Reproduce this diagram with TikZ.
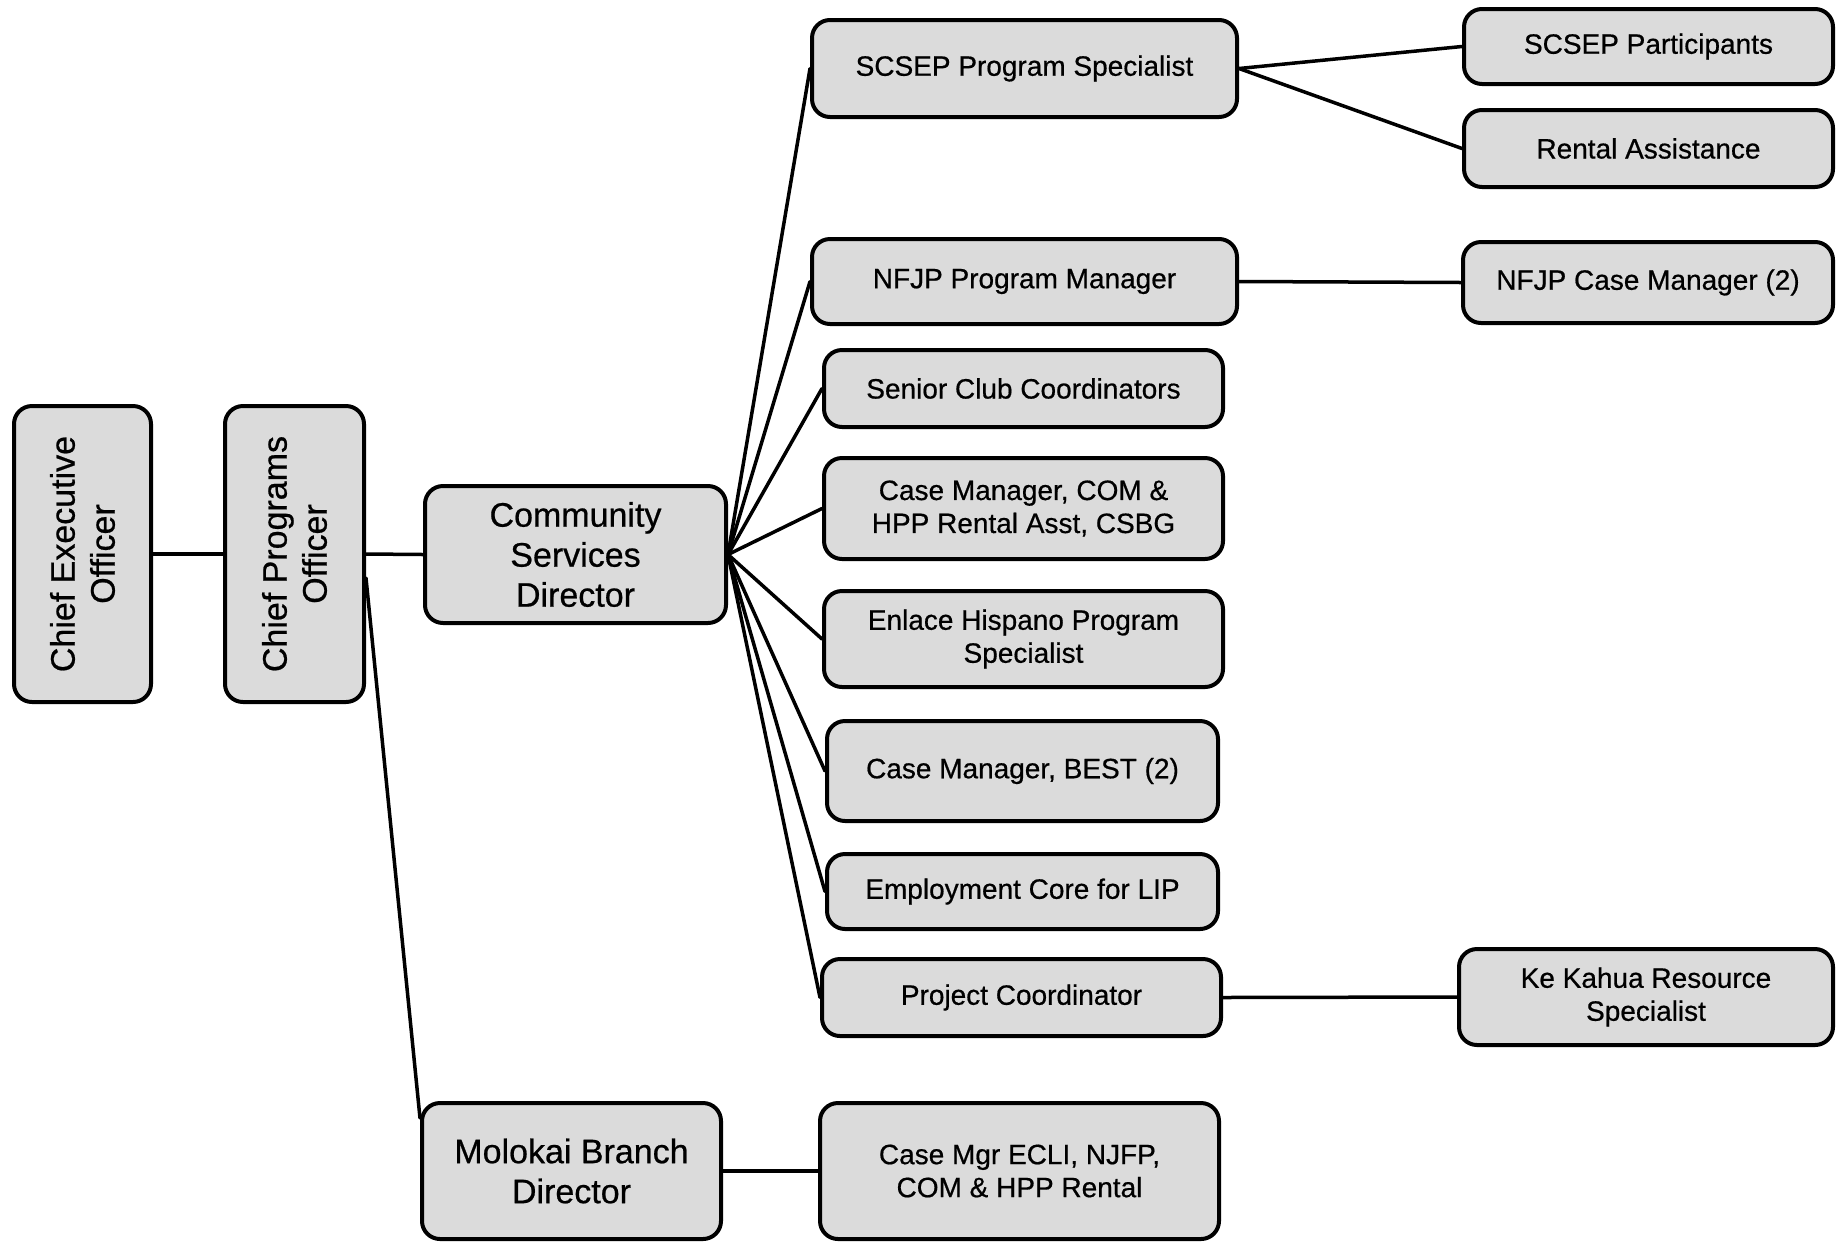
\documentclass[tikz,border=0pt]{standalone}
\usepackage{fontspec}
\setmainfont[FakeBold=0.6]{Liberation Sans}
\usetikzlibrary{calc}
\definecolor{boxfill}{gray}{0.86}
\tikzset{
  box/.style={draw, line width=4pt, rounded corners=18pt, fill=boxfill, align=center,
    inner sep=0pt, font=\fontsize{28}{33}\selectfont},
  bigbox/.style={box, font=\fontsize{34}{40}\selectfont},
  link/.style={line width=3.5pt, line cap=round}
}
\begin{document}
\begin{tikzpicture}[x=1pt,y=-1pt]
\useasboundingbox (0,0) rectangle (1841,1243);
% left column
\node[bigbox, rotate=90, minimum width=296pt, minimum height=137pt] (ceo) at (82.5,554) {Chief Executive\\Officer};
\node[bigbox, rotate=90, minimum width=296pt, minimum height=139pt] (cpo) at (294.5,554) {Chief Programs\\Officer};
\node[bigbox, minimum width=301pt, minimum height=137pt] (csd) at (575.5,554.5) {Community\\Services\\Director};
\node[bigbox, minimum width=299pt, minimum height=136pt] (mol) at (571.5,1171) {Molokai Branch\\Director};
% middle column
\node[box, minimum width=425pt, minimum height=97pt] (scsep) at (1024.5,68.5) {SCSEP Program Specialist};
\node[box, minimum width=425pt, minimum height=85pt] (nfjp) at (1024.5,281.5) {NFJP Program Manager};
\node[box, minimum width=399pt, minimum height=77pt] (senior) at (1023.5,388.5) {Senior Club Coordinators};
\node[box, minimum width=399pt, minimum height=101pt] (cmcom) at (1023.5,508.5) {Case Manager, COM \&\\HPP Rental Asst, CSBG};
\node[box, minimum width=399pt, minimum height=96pt] (enlace) at (1023.5,639) {Enlace Hispano Program\\Specialist};
\node[box, minimum width=391pt, minimum height=100pt] (best) at (1022.5,771) {Case Manager, BEST (2)};
\node[box, minimum width=391pt, minimum height=75pt] (emp) at (1022.5,891.5) {Employment Core for LIP};
\node[box, minimum width=399pt, minimum height=77pt] (proj) at (1021.5,997.5) {Project Coordinator};
\node[box, minimum width=399pt, minimum height=136pt] (ecli) at (1019.5,1171) {Case Mgr ECLI, NJFP,\\COM \& HPP Rental};
% right column
\node[box, minimum width=369pt, minimum height=75pt] (part) at (1648.5,46.5) {SCSEP Participants};
\node[box, minimum width=369pt, minimum height=77pt] (rent) at (1648.5,148.5) {Rental Assistance};
\node[box, minimum width=370pt, minimum height=81pt] (nfjpcm) at (1648,282.5) {NFJP Case Manager (2)};
\node[box, minimum width=374pt, minimum height=96pt] (kek) at (1646,997) {Ke Kahua Resource\\Specialist};
% connectors
\draw[link] (ceo) -- (cpo);
\draw[link] (cpo.south) -- (csd.west);
\draw[link] ($(cpo.south)+(0,24)$) -- ($(mol.north west)+(0,17)$);
\draw[link] (mol.east) -- (ecli.west);
\foreach \n in {scsep,nfjp,senior,cmcom,enlace,best,emp,proj}
  \draw[link] (csd.east) -- (\n.west);
\draw[link] (scsep.east) -- (part.west);
\draw[link] (scsep.east) -- (rent.west);
\draw[link] (nfjp.east) -- (nfjpcm.west);
\draw[link] (proj.east) -- (kek.west);
\end{tikzpicture}
\end{document}
